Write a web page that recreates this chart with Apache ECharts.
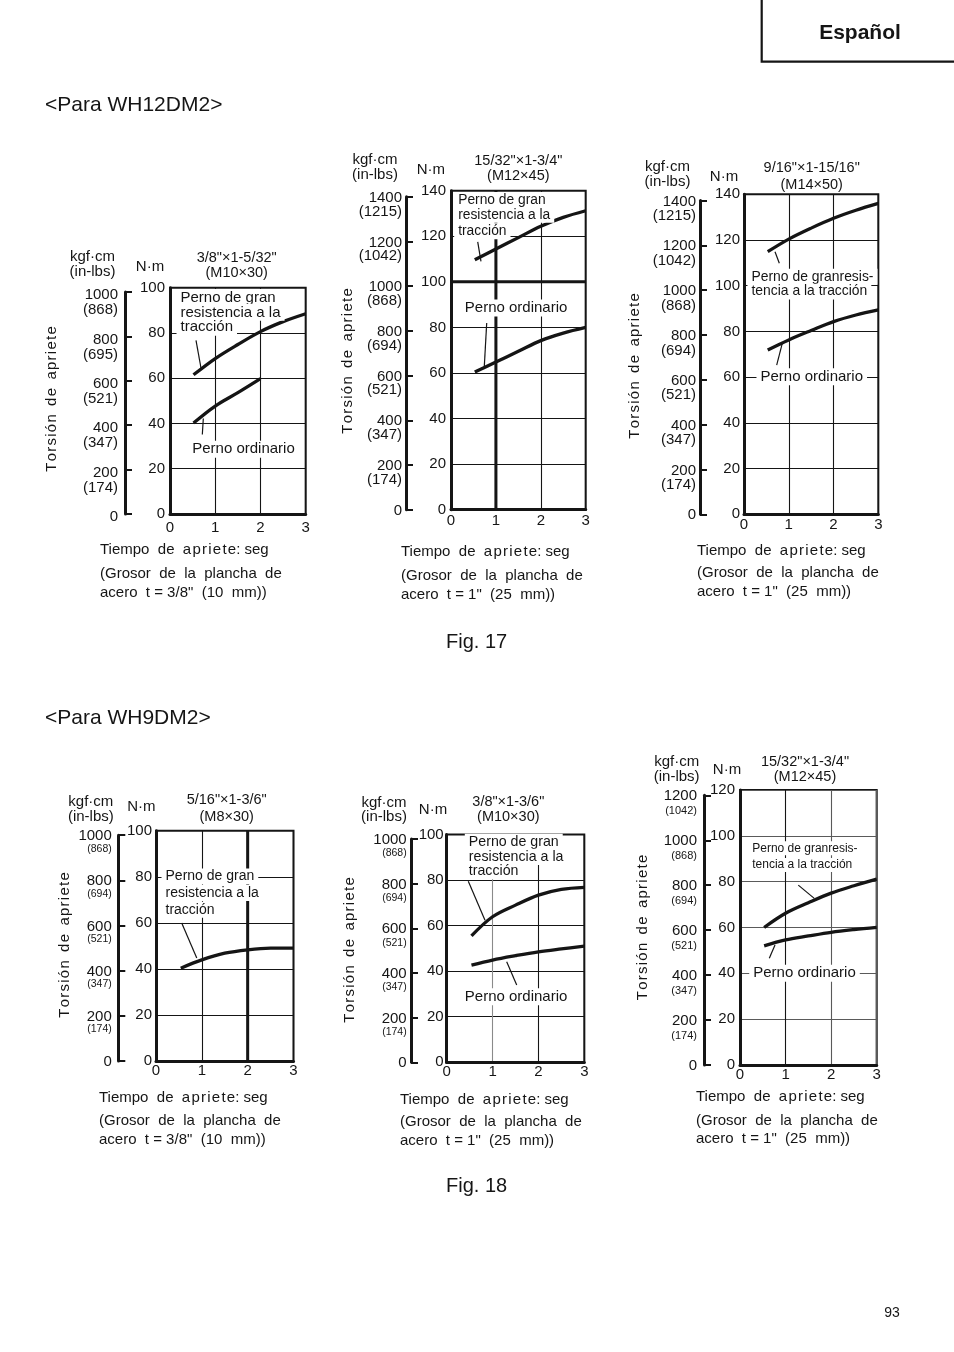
<!DOCTYPE html>
<html><head><meta charset="utf-8">
<script src="https://cdn.jsdelivr.net/npm/echarts@6.0.0/dist/echarts.min.js"></script>
<style>html,body{margin:0;padding:0;background:#fff}#c{width:954px;height:1352px}</style>
</head><body><div id="c"></div>
<script>
// ---------------- data ----------------
const timeTicks = [0, 1, 2, 3];
// Fig.17 left  3/8"x1-5/32" (M10x30)
const a_highT = [0.52, 1, 1.5, 2, 2.5, 3];
const a_highNm = [61.5, 68.7, 74.9, 80.6, 85, 88.5];
const a_ordT = [0.52, 1, 1.5, 2];
const a_ordNm = [40.2, 47.7, 53.6, 59.8];
// Fig.17 middle 15/32"x1-3/4" (M12x45)
const b_highT = [0.53, 1, 1.5, 2, 2.5, 3];
const b_highNm = [109.7, 114.4, 119.4, 124.4, 128.3, 131.2];
const b_ordT = [0.53, 1, 1.5, 2, 2.5, 3];
const b_ordNm = [60.4, 64.8, 69.5, 74.2, 77.5, 80.0];
// Fig.17 right 9/16"x1-15/16" (M14x50)
const c_highT = [0.53, 1, 1.5, 2, 2.5, 3];
const c_highNm = [114.9, 120.4, 125.2, 129.5, 133, 136];
const c_ordT = [0.53, 1, 1.5, 2, 2.5, 3];
const c_ordNm = [71.9, 76.3, 80.4, 84.3, 87.2, 89.4];
// Fig.18 left 5/16"x1-3/6" (M8x30)
const d_highT = [0.54, 1, 1.5, 2, 2.5, 3];
const d_highNm = [40.3, 43.9, 46.8, 48.3, 49, 49];
// Fig.18 middle 3/8"x1-3/6" (M10x30)
const e_highT = [0.54, 1, 1.5, 2, 2.5, 3];
const e_highNm = [55.5, 63.9, 69, 73.4, 75.9, 76.8];
const e_ordT = [0.54, 1, 1.5, 2, 2.5, 3];
const e_ordNm = [42.7, 44.9, 46.8, 48.5, 49.8, 51];
// Fig.18 right 15/32"x1-3/4" (M12x45)
const f_highT = [0.53, 1, 1.5, 2, 2.5, 3];
const f_highNm = [60, 66.2, 70.8, 75, 78.2, 81.1];
const f_ordT = [0.53, 1, 1.5, 2, 2.5, 3];
const f_ordNm = [52, 54.6, 56.3, 57.9, 59.1, 60.1];
// kgf·cm tick labels and in-lbs equivalents
const kgfTicks1000 = [0, 200, 400, 600, 800, 1000];
const inlbs1000a = [null, 174, 347, 521, 695, 868];
const inlbs1000 = [null, 174, 347, 521, 694, 868];
const kgfTicks1400 = [0, 200, 400, 600, 800, 1000, 1200, 1400];
const inlbs1400 = [null, 174, 347, 521, 694, 868, 1042, 1215];
const kgfTicks1200 = [0, 200, 400, 600, 800, 1000, 1200];
const inlbs1200 = [null, 174, 347, 521, 694, 868, 1042];
const NM_PER_KGFCM = 0.0980665;

// ---------------- layout / styles ----------------
const FONT = '"Liberation Sans", Arial, Helvetica, sans-serif';
const INK = '#151515';
const HS = '\u200A'; // hair space used as letter spacing
const spaced = w => w.split('').join(HS);
const HIGH = ['Perno de gran', 'resistencia a la', 'tracción'];
const HIGH2 = ['Perno de granresis-', 'tencia a la tracción'];
const ORD = 'Perno ordinario';
const TORSION = spaced('Torsión') + '  ' + spaced('de') + '  ' + spaced('apriete');
const TIEMPO = 'Tiempo  de  ' + spaced('apriete') + ': seg';

const layout = [
 { grid:{left:170, top:287.7, width:135.7, height:226.3}, nmMax:100, kgfMax:1000, kgfTicks:kgfTicks1000, inlbs:inlbs1000a,
   kgfX:125, kgfMargin:7, nmMargin:5, xMargin:6.5, inlbsSize:15, aLH:6, bLH:24, gridColor:INK, xGridColors:null, thick:[],
   curves:[
    {t:a_highT, nm:a_highNm, size:15, lines:[[HIGH[0],0.221,95.7],[HIGH[1],0.221,89.1],[HIGH[2],0.221,82.5]], leader:[[0.575,76.7],[0.686,64.4]]},
    {t:a_ordT, nm:a_ordNm, size:15, lines:[[ORD,0.48,28.6]], leader:[[0.737,42.2],[0.715,35.1]]}],
   kgfPos:[92.5,256.7,271.7], nmPos:[150,266.7], title:['3/8"×1-5/32"','(M10×30)'], titlePos:[236.7,258.3,273.3],
   torsion:[51.7,399], bottom:[100,550,573.5,593], thickness:'acero  t = 3/8"  (10  mm))' },
 { grid:{left:451, top:190.7, width:134.7, height:319}, nmMax:140, kgfMax:1400, kgfTicks:kgfTicks1400, inlbs:inlbs1400,
   kgfX:406, kgfMargin:4, nmMargin:5, xMargin:4, inlbsSize:15, aLH:2, bLH:25, gridColor:INK, xGridColors:null,
   thick:[[[1,0],[1,140]],[[0,100],[3,100]]],
   curves:[
    {t:b_highT, nm:b_highNm, size:13.8, lines:[[HIGH[0],0.149,136.0],[HIGH[1],0.149,129.4],[HIGH[2],0.149,122.2]], leader:[[0.595,117.5],[0.668,109.0]]},
    {t:b_ordT, nm:b_ordNm, size:15, lines:[[ORD,0.296,88.5]], leader:[[0.795,81.9],[0.742,62.9]]}],
   kgfPos:[375,159.7,174.7], nmPos:[430.8,170], title:['15/32"×1-3/4"','(M12×45)'], titlePos:[518.3,161.3,176.3],
   torsion:[348.3,361], bottom:[401,552,575.5,594.5], thickness:'acero  t = 1"  (25  mm))' },
 { grid:{left:744, top:194.3, width:134.3, height:320}, nmMax:140, kgfMax:1400, kgfTicks:kgfTicks1400, inlbs:inlbs1400,
   kgfX:700, kgfMargin:4, nmMargin:4, xMargin:3, inlbsSize:15, aLH:2, bLH:27, gridColor:INK, xGridColors:null, thick:[],
   curves:[
    {t:c_highT, nm:c_highNm, size:13.9, lines:[[HIGH2[0],0.156,103.9],[HIGH2[1],0.156,97.4]], leader:[[0.692,114.9],[0.789,109.8]]},
    {t:c_ordT, nm:c_ordNm, size:15, lines:[[ORD,0.357,60.2]], leader:[[0.855,74.8],[0.730,65.3]]}],
   kgfPos:[667.5,166.7,181.7], nmPos:[724,176.7], title:['9/16"×1-15/16"','(M14×50)'], titlePos:[811.7,168.3,185],
   torsion:[635,366], bottom:[697,551,573.3,592], thickness:'acero  t = 1"  (25  mm))' },
 { grid:{left:156, top:830.7, width:137.5, height:230.3}, nmMax:100, kgfMax:1000, kgfTicks:kgfTicks1000, inlbs:inlbs1000,
   kgfX:118.3, kgfMargin:6.5, nmMargin:4, xMargin:2, inlbsSize:10.5, aLH:2, bLH:23, gridColor:INK, xGridColors:null,
   thick:[[[2,0],[2,100]]],
   curves:[
    {t:d_highT, nm:d_highNm, size:14, lines:[[HIGH[0],0.197,80.1],[HIGH[1],0.197,72.9],[HIGH[2],0.197,65.7]], leader:[[0.561,59.9],[0.889,44.7]]}],
   kgfPos:[90.8,801.7,816.7], nmPos:[141.3,806.7], title:['5/16"×1-3/6"','(M8×30)'], titlePos:[226.7,800,816.7],
   torsion:[65,945], bottom:[99,1098,1121,1139.5], thickness:'acero  t = 3/8"  (10  mm))' },
 { grid:{left:446.7, top:834.5, width:137.6, height:227.8}, nmMax:100, kgfMax:1000, kgfTicks:kgfTicks1000, inlbs:inlbs1000,
   kgfX:411, kgfMargin:4.3, nmMargin:3, xMargin:2, inlbsSize:10.5, aLH:2, bLH:25, gridColor:INK, xGridColors:[INK,'#8a8a8a',INK,INK], thick:[],
   curves:[
    {t:e_highT, nm:e_highNm, size:14.2, lines:[[HIGH[0],0.471,96.8],[HIGH[1],0.471,90.2],[HIGH[2],0.471,83.9]], leader:[[0.471,79.5],[0.835,62.4]]},
    {t:e_ordT, nm:e_ordNm, size:15, lines:[[ORD,0.384,28.8]], leader:[[1.308,44.1],[1.526,33.9]]}],
   kgfPos:[384,803.3,816.7], nmPos:[433,810], title:['3/8"×1-3/6"','(M10×30)'], titlePos:[508.3,801.7,816.7],
   torsion:[350,950], bottom:[400,1100,1122,1141], thickness:'acero  t = 1"  (25  mm))' },
 { grid:{left:740, top:790, width:136.7, height:275}, nmMax:120, kgfMax:1200, kgfTicks:kgfTicks1200, inlbs:inlbs1200,
   kgfX:704, kgfMargin:7, nmMargin:5, xMargin:2.5, inlbsSize:11, aLH:2, bLH:27, gridColor:'#5a5a5a', xGridColors:['#5a5a5a',INK,'#5a5a5a','#5a5a5a'], thick:[],
   curves:[
    {t:f_highT, nm:f_highNm, size:12, lines:[[HIGH2[0],0.257,94.6],[HIGH2[1],0.257,87.3]], leader:[[1.279,78.5],[1.630,72.7]]},
    {t:f_ordT, nm:f_ordNm, size:15, lines:[[ORD,0.279,40]], leader:[[0.643,46.6],[0.768,52.4]]}],
   kgfPos:[676.7,761.7,776.7], nmPos:[727,770], title:['15/32"×1-3/4"','(M12×45)'], titlePos:[805,761.7,776.7],
   torsion:[643.3,927.5], bottom:[696,1097,1121,1139], thickness:'acero  t = 1"  (25  mm))' }
];

// ---------------- build option ----------------
const grids = [], xAxes = [], yAxes = [], series = [], graphics = [];
function T(s, x, y, size, align, extra) {
  const e = {type:'text', x:x, y:y, silent:true,
    style:{text:s, fill:INK, fontSize:size || 15, fontFamily:FONT, fontWeight:'normal',
      align:align || 'center', verticalAlign:'middle', textAlign:align || 'center', textVerticalAlign:'middle'}};
  if (extra) { if (extra.style) Object.assign(e.style, extra.style); if (extra.rotation) e.rotation = extra.rotation; }
  graphics.push(e);
}

layout.forEach((L, i) => {
  const g = L.grid;
  const gi = 2 * i;
  grids.push({left:g.left, top:g.top, width:g.width, height:g.height, show:true, borderColor:INK, borderWidth:2, backgroundColor:'rgba(0,0,0,0)'});
  const kh = L.kgfMax * NM_PER_KGFCM * g.height / L.nmMax;
  grids.push({left:L.kgfX, top:g.top + g.height - kh, width:10, height:kh, show:false});

  xAxes.push({gridIndex:gi, type:'value', min:0, max:3, interval:1,
    axisLine:{show:true, lineStyle:{color:INK, width:3}}, axisTick:{show:false},
    axisLabel:{margin:L.xMargin, color:INK, fontSize:15, fontFamily:FONT, formatter:v => timeTicks.indexOf(v) >= 0 ? String(v) : ''},
    splitLine:{show:true, lineStyle:{color:L.xGridColors || L.gridColor, width:1.1}}});
  xAxes.push({gridIndex:gi + 1, type:'value', min:0, max:1, show:false});

  yAxes.push({gridIndex:gi, type:'value', min:0, max:L.nmMax, interval:20,
    axisLine:{show:true, lineStyle:{color:INK, width:3}}, axisTick:{show:false},
    axisLabel:{margin:L.nmMargin, color:INK, fontSize:15, fontFamily:FONT},
    splitLine:{show:true, lineStyle:{color:L.gridColor, width:1.1}}});
  yAxes.push({gridIndex:gi + 1, type:'value', min:0, max:L.kgfMax, interval:200, position:'left',
    axisLine:{show:true, onZero:false, lineStyle:{color:INK, width:3}},
    axisTick:{show:true, inside:true, length:7, lineStyle:{color:INK, width:2}},
    splitLine:{show:false},
    axisLabel:{margin:L.kgfMargin, verticalAlign:'top', align:'right',
      formatter:v => { const k = L.kgfTicks.indexOf(v); const il = k >= 0 ? L.inlbs[k] : null;
        return il ? '{a|' + v + '}\n{b|(' + il + ')}' : '{a|' + v + '}'; },
      rich:{a:{fontSize:15, lineHeight:L.aLH, color:INK, fontFamily:FONT, align:'right'},
            b:{fontSize:L.inlbsSize, lineHeight:L.bLH, color:INK, fontFamily:FONT, align:'right'}}}});

  L.thick.forEach(seg => series.push({type:'line', xAxisIndex:gi, yAxisIndex:gi, data:seg, symbol:'none', silent:true, z:1,
    lineStyle:{color:INK, width:3}}));

  L.curves.forEach(c => {
    series.push({type:'line', xAxisIndex:gi, yAxisIndex:gi, data:c.t.map((t, k) => [t, c.nm[k]]),
      smooth:0.35, symbol:'none', silent:true, z:3,
      lineStyle:{color:INK, width:3.3, cap:'butt'},
      markPoint:{symbol:'rect', symbolSize:1, silent:true, itemStyle:{color:'rgba(0,0,0,0)'},
        label:{show:true, position:'right', distance:0, offset:[-4, 0], formatter:'{b}', color:INK, fontFamily:FONT,
          fontSize:c.size, lineHeight:c.size + 2, backgroundColor:'#fff', padding:[0, 4, 0, 4]},
        data:c.lines.map(l => ({name:l[0], coord:[l[1], l[2]]}))},
      markLine:{symbol:['none', 'none'], silent:true, label:{show:false},
        lineStyle:{color:INK, width:1.2, type:'solid'},
        data:[[{coord:c.leader[0]}, {coord:c.leader[1]}]]}
    });
  });

  T('kgf·cm', L.kgfPos[0], L.kgfPos[1]);
  T('(in-lbs)', L.kgfPos[0], L.kgfPos[2]);
  T('N·m', L.nmPos[0], L.nmPos[1]);
  T(L.title[0], L.titlePos[0], L.titlePos[1], 14.5);
  T(L.title[1], L.titlePos[0], L.titlePos[2], 14.5);
  T(TORSION, L.torsion[0], L.torsion[1], 15, null, {rotation:Math.PI / 2});
  T(TIEMPO, L.bottom[0], L.bottom[1], 15, 'left');
  T('(Grosor  de  la  plancha  de', L.bottom[0], L.bottom[2], 15, 'left');
  T(L.thickness, L.bottom[0], L.bottom[3], 15, 'left');
});

// page furniture
graphics.push({type:'polyline', silent:true, shape:{points:[[761.7, -2], [761.7, 61.7], [960, 61.7]]}, style:{stroke:INK, lineWidth:2.2, fill:null}});
T('Español', 860, 33.3, 21, null, {style:{fontWeight:'bold'}});
T('<Para WH12DM2>', 45, 105, 21, 'left');
T('Fig. 17', 446, 642, 20, 'left');
T('<Para WH9DM2>', 45, 718, 21, 'left');
T('Fig. 18', 446, 1186, 20, 'left');
T('93', 892, 1313, 14);

const chart = echarts.init(document.getElementById('c'), null, {renderer:'canvas'});
chart.setOption({
  backgroundColor:'#fff', animation:false,
  grid:grids, xAxis:xAxes, yAxis:yAxes, series:series, graphic:{elements:graphics}
});
</script></body></html>
